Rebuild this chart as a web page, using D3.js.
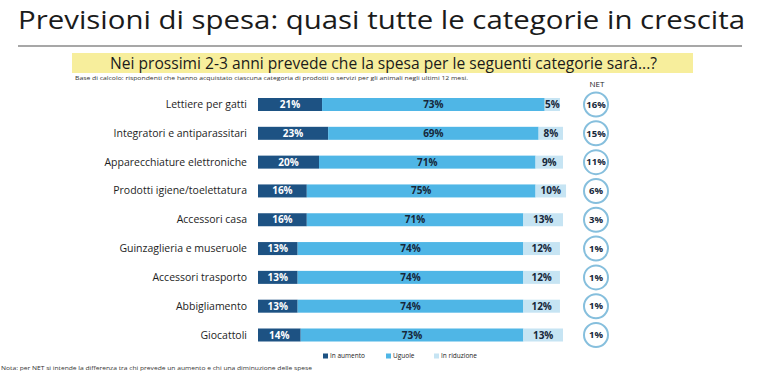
<!DOCTYPE html>
<html>
<head>
    <meta charset="utf-8">
    <title>Previsioni di spesa</title>
    <style>
        body { margin: 0; background: #fff; }
        text { font-family: "Open Sans", "Noto Sans", sans-serif; }
    </style>
</head>
<body>
    <script src="https://cdnjs.cloudflare.com/ajax/libs/d3/7.9.0/d3.min.js"></script>
    <script>

        const categories = [
            "Lettiere per gatti",
            "Integratori e antiparassitari",
            "Apparecchiature elettroniche",
            "Prodotti igiene/toelettatura",
            "Accessori casa",
            "Guinzaglieria e museruole",
            "Accessori trasporto",
            "Abbigliamento",
            "Giocattoli"
        ];
        const aumento   = [21, 23, 20, 16, 16, 13, 13, 13, 14];
        const uguale    = [73, 69, 71, 75, 71, 74, 74, 74, 73];
        const riduzione = [5, 8, 9, 10, 13, 12, 12, 12, 13];
        const net       = [16, 15, 11, 6, 3, 1, 1, 1, 1];
        const seriesNames = ["In aumento", "Uguole", "In riduzione"];

        const width = 768;
        const height = 373;
        const colors = ["#1d5283", "#4fb6e6", "#c6e4f3"];
        const textColors = ["#ffffff", "#16273a", "#16273a"];

        const svg = d3.select("body")
            .append("svg")
            .attr("width", width)
            .attr("height", height);

        // titolo
        svg.append("text")
            .attr("x", 18)
            .attr("y", 29)
            .attr("font-size", 26)
            .attr("font-weight", 500)
            .attr("fill", "#1b1b1b")
            .attr("textLength", 727)
            .attr("lengthAdjust", "spacingAndGlyphs")
            .text("Previsioni di spesa: quasi tutte le categorie in crescita");

        svg.append("line")
            .attr("x1", 18).attr("x2", 742)
            .attr("y1", 46).attr("y2", 46)
            .attr("stroke", "#8a8a8a")
            .attr("stroke-width", 1.5);

        svg.append("rect")
            .attr("x", 72).attr("y", 53)
            .attr("width", 621).attr("height", 20)
            .attr("fill", "#f7ee9c");

        svg.append("text")
            .attr("x", 110)
            .attr("y", 68.5)
            .attr("font-size", 16.5)
            .attr("fill", "#1b1b1b")
            .attr("textLength", 547)
            .attr("lengthAdjust", "spacingAndGlyphs")
            .text("Nei prossimi 2-3 anni prevede che la spesa per le seguenti categorie sarà...?");

        svg.append("text")
            .attr("x", 75)
            .attr("y", 80)
            .attr("font-size", 5.5)
            .attr("fill", "#333")
            .attr("textLength", 393)
            .attr("lengthAdjust", "spacingAndGlyphs")
            .text("Base di calcolo: rispondenti che hanno acquistato ciascuna categoria di prodotti o servizi per gli animali negli ultimi 12 mesi.");

        const scaleX = d3.scaleLinear()
            .domain([0, 100])
            .range([258, 563]);

        const scaleY = d3.scalePoint()
            .domain(categories)
            .range([104.5, 335]);

        const barH = 13;

        const rows = categories.map((c, i) => {
            const vals = [aumento[i], uguale[i], riduzione[i]];
            let acc = 0;
            return vals.map((v, k) => {
                const seg = {cat: c, k: k, v: v, x0: acc, x1: acc + v};
                acc += v;
                return seg;
            });
        }).flat();

        const g = svg.append("g");

        g.selectAll(".bar")
            .data(rows)
            .enter()
            .append("rect")
            .attr("x", d => scaleX(d.x0))
            .attr("y", d => scaleY(d.cat) - barH / 2)
            .attr("width", d => scaleX(d.x1) - scaleX(d.x0))
            .attr("height", barH)
            .attr("fill", d => colors[d.k]);

        g.selectAll(".val")
            .data(rows)
            .enter()
            .append("text")
            .attr("x", d => scaleX((d.x0 + d.x1) / 2))
            .attr("y", d => scaleY(d.cat) + 3.5)
            .attr("text-anchor", "middle")
            .attr("font-size", 10)
            .attr("font-weight", 700)
            .attr("fill", d => textColors[d.k])
            .text(d => d.v + "%");

        // etichette categorie
        g.selectAll(".cat")
            .data(categories)
            .enter()
            .append("text")
            .attr("x", 247)
            .attr("y", d => scaleY(d) + 3.5)
            .attr("text-anchor", "end")
            .attr("font-size", 10.5)
            .attr("font-weight", 500)
            .attr("fill", "#1e1e1e")
            .text(d => d);

        // NET
        svg.append("text")
            .attr("x", 597)
            .attr("y", 87)
            .attr("text-anchor", "middle")
            .attr("font-size", 8)
            .attr("fill", "#1e1e1e")
            .text("NET");

        g.selectAll(".net")
            .data(categories)
            .enter()
            .append("circle")
            .attr("cx", 596)
            .attr("cy", d => scaleY(d))
            .attr("r", 12)
            .attr("fill", "#fff")
            .attr("stroke", "#86bfdd")
            .attr("stroke-width", 2);

        g.selectAll(".netv")
            .data(categories)
            .enter()
            .append("text")
            .attr("x", 596)
            .attr("y", d => scaleY(d) + 3.3)
            .attr("text-anchor", "middle")
            .attr("font-size", 9.5)
            .attr("font-weight", 700)
            .attr("fill", "#16273a")
            .text((d, i) => net[i] + "%");

        // legenda
        const legendX = [323, 386, 434];
        const leg = svg.selectAll(".leg")
            .data(seriesNames)
            .enter()
            .append("g")
            .attr("transform", (d, i) => `translate(${legendX[i]},356)`);
        leg.append("rect")
            .attr("x", 0).attr("y", -2.5)
            .attr("width", 5).attr("height", 5)
            .attr("fill", (d, i) => colors[i]);
        leg.append("text")
            .attr("x", 7)
            .attr("y", 0)
            .attr("dy", "0.35em")
            .attr("font-size", 6.5)
            .attr("fill", "#222")
            .text(d => d);

        svg.append("text")
            .attr("x", 1)
            .attr("y", 370)
            .attr("font-size", 5.5)
            .attr("fill", "#333")
            .attr("textLength", 311)
            .attr("lengthAdjust", "spacingAndGlyphs")
            .text("Nota: per NET si intende la differenza tra chi prevede un aumento e chi una diminuzione delle spese");

    </script>
</body>
</html>
